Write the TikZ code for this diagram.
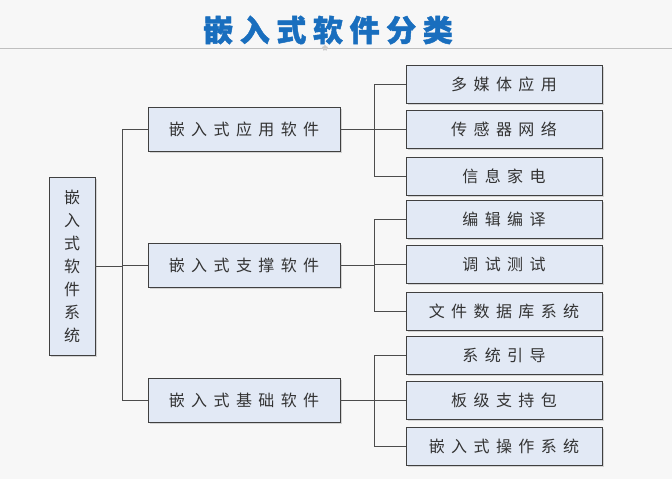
\documentclass[tikz,border=0pt]{standalone}
\usepackage{fontspec}
\setmainfont{Noto Sans CJK SC}[LetterSpace=40]
\newfontfamily\titlefont{Noto Sans CJK SC}[LetterSpace=22,FakeBold=1.5]
\usetikzlibrary{shadows,shapes.geometric}
\definecolor{boxfill}{RGB}{226,233,245}
\definecolor{titleblue}{RGB}{25,110,190}
\tikzset{
  box/.style={draw=black!75, fill=boxfill, line width=0.6pt, drop shadow={shadow xshift=1.5pt, shadow yshift=-1.5pt, opacity=0.3},
    text=black!80, font=\fontsize{16}{17}\selectfont, inner sep=0pt},
  mid/.style={box, minimum width=192pt, minimum height=44pt},
  leaf/.style={box, minimum width=196pt, minimum height=38pt},
  link/.style={draw=black!70, line width=0.6pt}
}
\begin{document}
\begin{tikzpicture}[x=1pt,y=-1pt]
  \fill[black!3] (0,0) rectangle (672,479);
  \useasboundingbox (0,0) rectangle (672,479);

  % title
  \node (title) at (328,30) {\textcolor{titleblue}{\titlefont\bfseries\fontsize{30}{32}\selectfont 嵌入式软件分类}};
  \draw[black!25, line width=0.8pt] (0,48) -- (672,48);
  \node[star, fill=black!20, inner sep=1.5pt] (star) at (325,48) {};

  % root
  \node[box, minimum width=46pt, minimum height=178pt, align=center,
        font=\fontsize{16}{23}\selectfont] (root) at (72,266) {嵌\\入\\式\\软\\件\\系\\统};

  % middle level
  \node[mid] (app) at (244,129) {嵌入式应用软件};
  \node[mid] (sup) at (244,265) {嵌入式支撑软件};
  \node[mid] (base) at (244,400) {嵌入式基础软件};

  % leaves
  \node[leaf] (a1) at (504,84) {多媒体应用};
  \node[leaf] (a2) at (504,129) {传感器网络};
  \node[leaf] (a3) at (504,176) {信息家电};
  \node[leaf] (s1) at (504,219) {编辑编译};
  \node[leaf] (s2) at (504,264) {调试测试};
  \node[leaf] (s3) at (504,311) {文件数据库系统};
  \node[leaf] (b1) at (504,355) {系统引导};
  \node[leaf] (b2) at (504,400) {板级支持包};
  \node[leaf] (b3) at (504,446) {嵌入式操作系统};

  % connectors
  \coordinate (rj) at (122,266);
  \draw[link] (root.east) -- (rj);
  \foreach \m in {app,sup,base}
    \draw[link] (rj |- \m.west) -- (\m.west);
  \draw[link] (rj |- app.west) -- (rj |- base.west);
  \foreach \m/\p/\q/\r in {app/a1/a2/a3, sup/s1/s2/s3, base/b1/b2/b3} {
    \coordinate (j) at ([xshift=34pt]\m.east);
    \draw[link] (\m.east) -- (j);
    \draw[link] (j |- \p.west) -- (j |- \r.west);
    \foreach \l in {\p,\q,\r}
      \draw[link] (j |- \l.west) -- (\l.west);
  }
\end{tikzpicture}
\end{document}
